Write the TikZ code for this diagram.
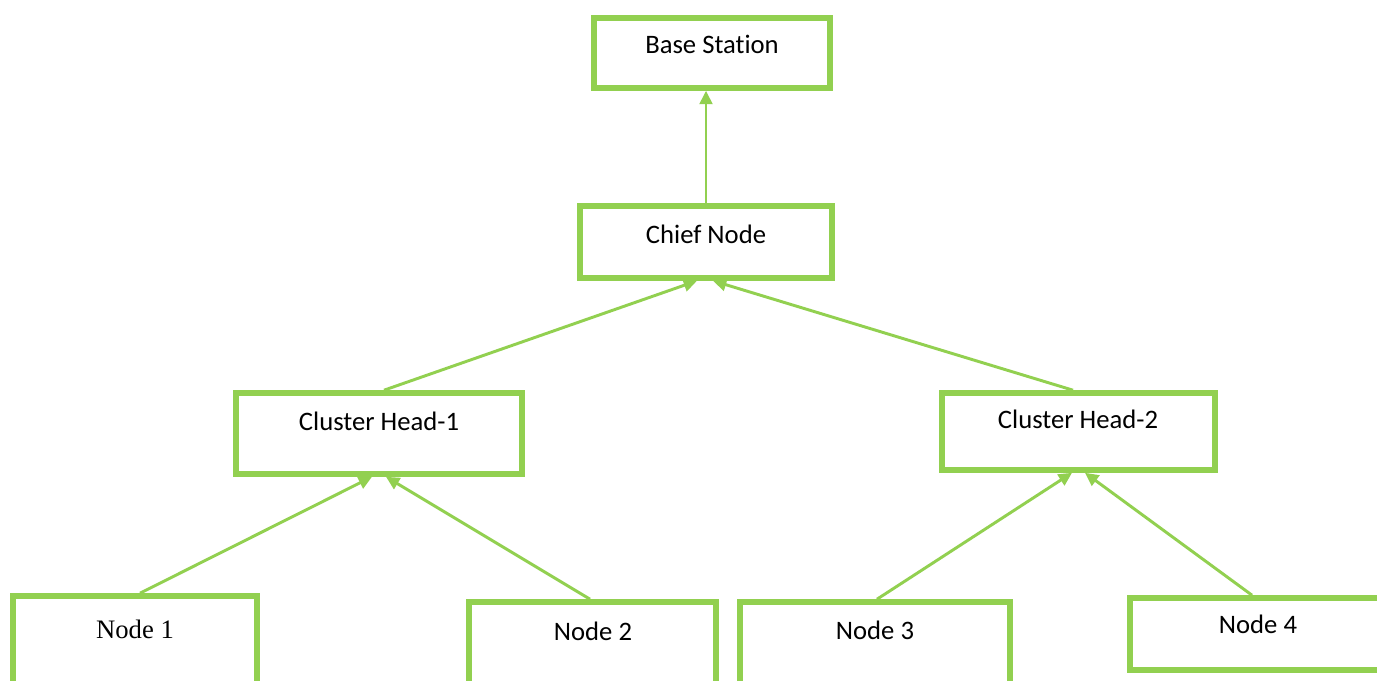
\documentclass[tikz,border=0pt]{standalone}
\usepackage{fontspec}
\setmainfont[Ligatures=CommonOff]{Carlito}
\newfontfamily\timesface{Liberation Serif}
\usetikzlibrary{arrows.meta,calc}
\definecolor{leaf}{HTML}{92D050}
\begin{document}
\begin{tikzpicture}[x=0.75pt,y=-0.75pt,
  box/.style={draw=leaf,line width=4.2pt,inner sep=0pt,fill=white},
  lbl/.style={anchor=base,inner sep=0pt,font=\fontsize{20}{24}\selectfont},
  link/.style={draw=leaf,line width=2.2pt,-{Triangle[length=10pt,width=9.5pt]}}]
\useasboundingbox (0,0) rectangle (1377,681);
\clip (0,0) rectangle (1377,681);

% boxes
\node[box,minimum width=236*0.75pt,minimum height=70*0.75pt] (base) at (712,53) {};
\node[box,minimum width=252*0.75pt,minimum height=72*0.75pt] (chief) at (706,242) {};
\node[box,minimum width=286*0.75pt,minimum height=81*0.75pt] (ch1) at (379,433.5) {};
\node[box,minimum width=273*0.75pt,minimum height=77*0.75pt] (ch2) at (1078.5,431.5) {};
\node[box,minimum width=244*0.75pt,minimum height=104*0.75pt] (n1) at (135,648) {};
\node[box,minimum width=247*0.75pt,minimum height=98*0.75pt] (n2) at (592.5,651) {};
\node[box,minimum width=270*0.75pt,minimum height=98*0.75pt] (n3) at (875,651) {};
\node[box,minimum width=270*0.75pt,minimum height=72*0.75pt] (n4) at (1265,634) {};

% labels
\node[lbl] (tbase) at (712,54) {Base Station};
\node[lbl] (tchief) at (706,243) {Chief Node};
\node[lbl] (tch1) at (379,430) {Cluster Head-1};
\node[lbl] (tch2) at (1078,428) {Cluster Head-2};
\node[lbl,font=\timesface\fontsize{20}{24}\selectfont] (tn1) at (135,638) {Node 1};
\node[lbl] (tn2) at (593,640) {Node 2};
\node[lbl] (tn3) at (875,639) {Node 3};
\node[lbl] (tn4) at (1258,633) {Node 4};

% connectors
\draw[link] (chief.north) -- (chief.north |- base.south);
\draw[link] ($(ch1.north)+(5,0)$) -- ($(chief.south)+(-9,0)$);
\draw[link] ($(ch2.north)+(-5.5,0)$) -- ($(chief.south)+(7,0)$);
\draw[link] ($(n1.north)+(5,0)$) -- ($(ch1.south)+(-7,0)$);
\draw[link] ($(n2.north)+(-2.5,0)$) -- ($(ch1.south)+(7,0)$);
\draw[link] ($(n3.north)+(2,0)$) -- ($(ch2.south)+(-6.5,0)$);
\draw[link] ($(n4.north)+(-13,0)$) -- ($(ch2.south)+(6.5,0)$);
\end{tikzpicture}
\end{document}
